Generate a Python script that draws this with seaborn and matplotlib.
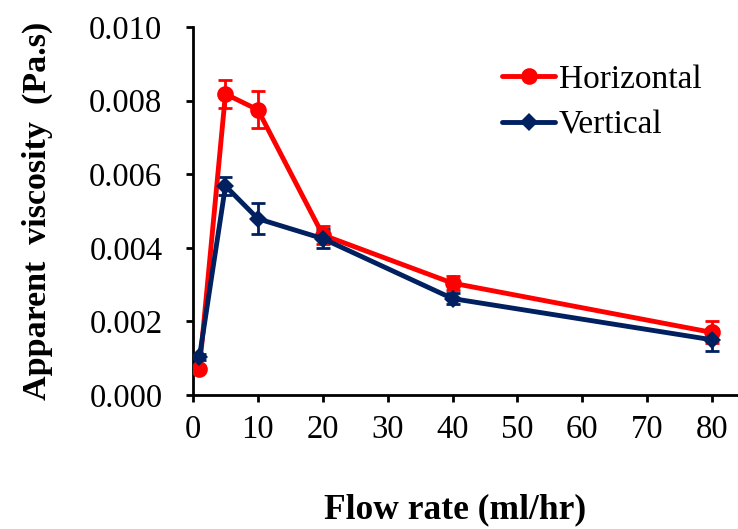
import matplotlib
matplotlib.use("Agg")
import matplotlib.pyplot as plt
import seaborn as sns
import pandas as pd
import numpy as np

flow_rate = [1, 5, 10, 20, 40, 80]
horizontal = [0.00072, 0.00818, 0.00775, 0.00435, 0.00304, 0.00170]
horizontal_err = [0.00008, 0.00038, 0.00050, 0.00025, 0.00020, 0.00030]
vertical = [0.00104, 0.00568, 0.00479, 0.00425, 0.00262, 0.00150]
vertical_err = [0.00008, 0.00025, 0.00042, 0.00025, 0.00015, 0.00030]
x_ticks = [0, 10, 20, 30, 40, 50, 60, 70, 80]
y_ticks = [0.000, 0.002, 0.004, 0.006, 0.008, 0.010]

sns.set_style("ticks")
plt.rcParams['font.family'] = ['Liberation Serif', 'DejaVu Serif']
plt.rcParams['text.color'] = 'black'
plt.rcParams['axes.labelcolor'] = 'black'

df = pd.DataFrame({
    "Flow rate": flow_rate * 2,
    "Viscosity": horizontal + vertical,
    "Series": ["Horizontal"] * len(flow_rate) + ["Vertical"] * len(flow_rate),
})

colors = {"Horizontal": "#FF0000", "Vertical": "#002060"}

fig = plt.figure(figsize=(7.38, 5.29), dpi=100)
ax = fig.add_axes([193 / 738, 1 - 395 / 529, 1 - 193 / 738, (395 - 27) / 529])

for name, vals, errs in [("Horizontal", horizontal, horizontal_err),
                         ("Vertical", vertical, vertical_err)]:
    ax.errorbar(flow_rate, vals, yerr=errs, fmt="none", ecolor=colors[name],
                elinewidth=2, capsize=5, capthick=2, zorder=2)

sns.lineplot(data=df, x="Flow rate", y="Viscosity", hue="Series", style="Series",
             palette=colors, markers={"Horizontal": "o", "Vertical": "D"},
             dashes=False, linewidth=3.5, markersize=12, markeredgewidth=0,
             ax=ax, zorder=3)
for line in ax.lines:
    if line.get_marker() == "D":
        line.set_markersize(9)

ax.set_xlim(0, 84)
ax.set_ylim(0, 0.010)
ax.set_xticks(x_ticks)
ax.set_yticks(y_ticks)
ax.set_yticklabels([f"{v:.3f}" for v in y_ticks])
ax.tick_params(axis="both", labelsize=23.5, width=2, length=5, direction="out",
               colors="black")
ax.tick_params(axis="x", pad=9)
ax.tick_params(axis="y", pad=17)
for s in ["top", "right"]:
    ax.spines[s].set_visible(False)
for s in ["left", "bottom"]:
    ax.spines[s].set_linewidth(2)
    ax.spines[s].set_color("black")

ax.set_xlabel("Flow rate (ml/hr)", fontsize=25.5, fontweight="bold")
ax.xaxis.set_label_coords((455 - 193) / 545, (395 - 510) / 368)
ax.xaxis.label.set_va("center")
ax.set_ylabel("Apparent  viscosity  (Pa.s)", fontsize=24.5, fontweight="bold")
ax.yaxis.set_label_coords((37 - 193) / 545, (395 - 211) / 368)
ax.yaxis.label.set_va("center")

leg = ax.legend(title=None, frameon=False, fontsize=24, loc="upper left",
                bbox_to_anchor=(0.512, 0.98), handlelength=1.6, handletextpad=0.1,
                labelspacing=0.45)
for h in leg.legend_handles:
    h.set_linewidth(3.5)

fig.savefig("out.png", dpi=100)
